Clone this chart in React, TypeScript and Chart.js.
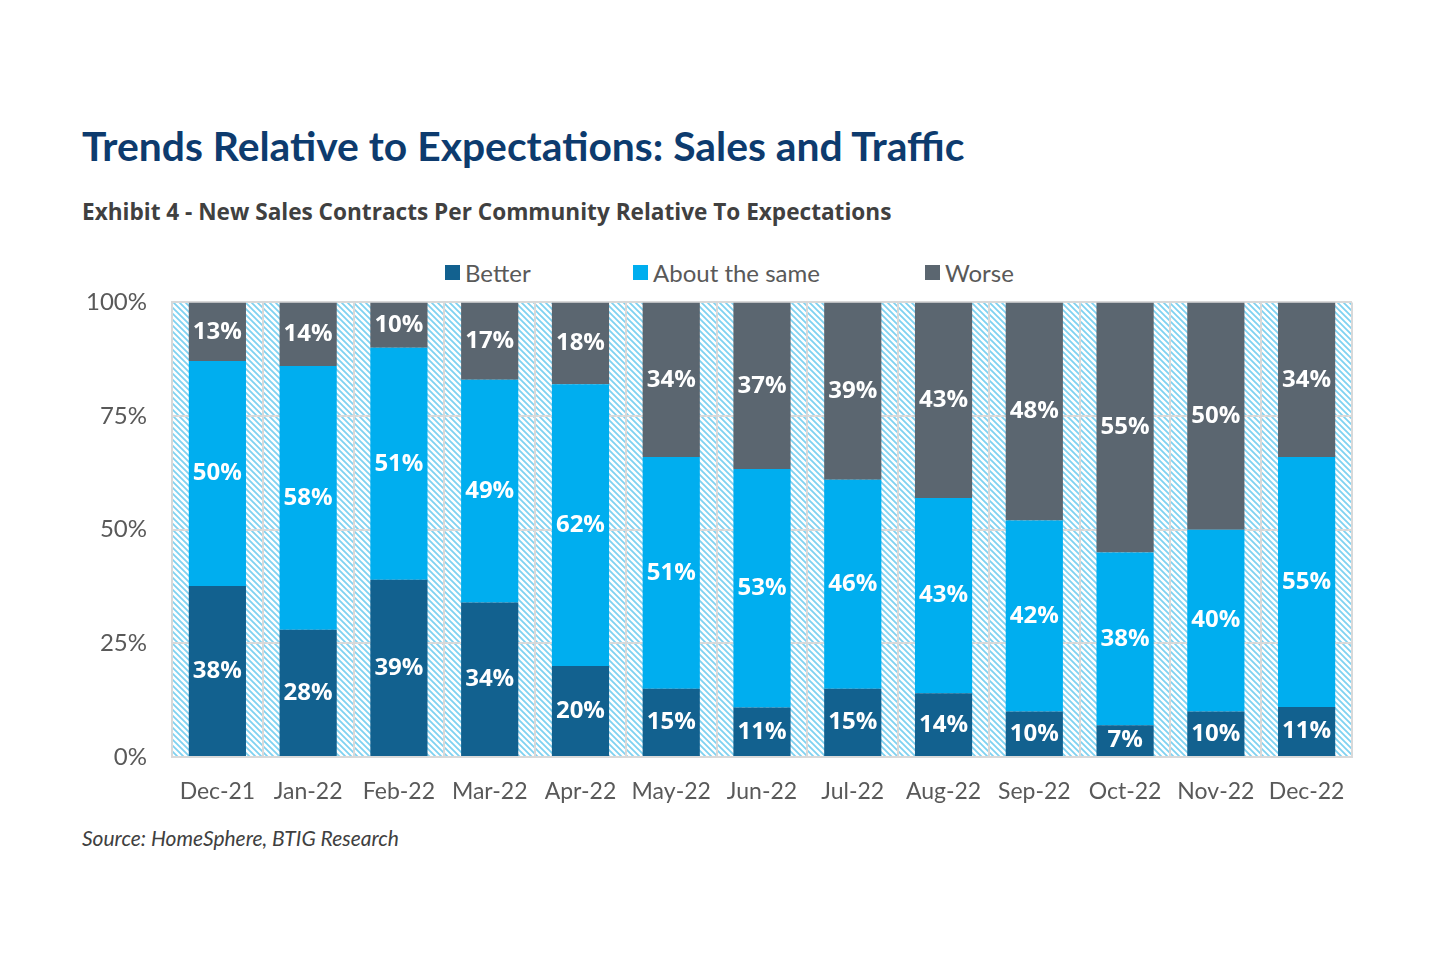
import React, { useEffect, useRef } from "react";
import { Chart, registerables } from "chart.js";

Chart.register(...registerables);

const categories = ["Dec-21", "Jan-22", "Feb-22", "Mar-22", "Apr-22", "May-22", "Jun-22", "Jul-22", "Aug-22", "Sep-22", "Oct-22", "Nov-22", "Dec-22"];
const better = [38, 28, 39, 34, 20, 15, 11, 15, 14, 10, 7, 10, 11];
const aboutSame = [50, 58, 51, 49, 62, 51, 53, 46, 43, 42, 38, 40, 55];
const worse = [13, 14, 10, 17, 18, 34, 37, 39, 43, 48, 55, 50, 34];
const yTicks = [0, 25, 50, 75, 100];

const seriesNames = ["Better", "About the same", "Worse"];
const seriesColors = ["#12618f", "#00aeef", "#5b6670"];

const FONT = "Lato, 'Open Sans', sans-serif";
const FONT2 = "'Open Sans', Lato, sans-serif";

function normalize(idx: number, arr: number[]): number {
  const total = better[idx] + aboutSame[idx] + worse[idx];
  return (arr[idx] / total) * 100;
}

const raw = [better, aboutSame, worse];

const hatchPlugin = {
  id: "hatchBg",
  beforeDraw(chart: any) {
    const { ctx, chartArea } = chart;
    if (!chartArea) return;
    const p = document.createElement("canvas");
    p.width = 6;
    p.height = 6;
    const pc = p.getContext("2d")!;
    pc.fillStyle = "#ffffff";
    pc.fillRect(0, 0, 6, 6);
    pc.strokeStyle = "#7fd2f1";
    pc.lineWidth = 1.8;
    pc.beginPath();
    pc.moveTo(-1, -1);
    pc.lineTo(7, 7);
    pc.moveTo(-4, 2);
    pc.lineTo(2, 8);
    pc.moveTo(2, -4);
    pc.lineTo(8, 2);
    pc.stroke();
    const pattern = ctx.createPattern(p, "repeat");
    ctx.save();
    ctx.fillStyle = pattern;
    ctx.fillRect(chartArea.left, chartArea.top, chartArea.right - chartArea.left, chartArea.bottom - chartArea.top);
    ctx.restore();
  },
};

const labelPlugin = {
  id: "valueLabels",
  afterDatasetsDraw(chart: any) {
    const { ctx } = chart;
    ctx.save();
    ctx.fillStyle = "#ffffff";
    ctx.font = `bold 24px ${FONT2}`;
    ctx.textAlign = "center";
    ctx.textBaseline = "middle";
    chart.data.datasets.forEach((ds: any, di: number) => {
      const meta = chart.getDatasetMeta(di);
      meta.data.forEach((bar: any, i: number) => {
        const cy = (bar.y + bar.base) / 2;
        ctx.fillText(`${raw[di][i]}%`, bar.x, cy);
      });
    });
    ctx.restore();
  },
};

export default function App() {
  const ref = useRef<HTMLCanvasElement>(null);

  useEffect(() => {
    if (!ref.current) return;
    const chart = new Chart(ref.current, {
      type: "bar",
      data: {
        labels: categories,
        datasets: raw.map((arr, di) => ({
          label: seriesNames[di],
          data: arr.map((_, i) => normalize(i, arr)),
          backgroundColor: seriesColors[di],
          borderWidth: 0,
          barPercentage: 0.63,
          categoryPercentage: 1,
        })),
      },
      options: {
        responsive: false,
        animation: false,
        maintainAspectRatio: false,
        layout: { padding: { top: 11, right: 18, left: 0, bottom: 0 } },
        plugins: {
          legend: { display: false },
          tooltip: { enabled: false },
        },
        scales: {
          x: {
            stacked: true,
            offset: true,
            grid: { display: true, offset: true, color: "#d9d9d9", lineWidth: 2, drawTicks: false },
            border: { display: true, color: "#d9d9d9", width: 2 },
            ticks: { color: "#595959", font: { family: FONT, size: 23 }, padding: 21 },
            afterFit(scale: any) {
              scale.height = 60;
            },
          },
          y: {
            stacked: true,
            min: 0,
            max: 100,
            afterBuildTicks(scale: any) {
              scale.ticks = yTicks.map((v) => ({ value: v }));
            },
            grid: { color: "#d9d9d9", lineWidth: 2, drawTicks: false },
            border: { display: true, color: "#d9d9d9", width: 2 },
            ticks: {
              color: "#595959",
              font: { family: FONT, size: 24 },
              padding: 25,
              callback: (v: any) => `${v}%`,
            },
            afterFit(scale: any) {
              scale.width = 92;
            },
          },
        },
      },
      plugins: [hatchPlugin, labelPlugin],
    });
    return () => chart.destroy();
  }, []);

  const legendItems = [
    { left: 445, name: seriesNames[0], color: seriesColors[0] },
    { left: 633, name: seriesNames[1], color: seriesColors[1] },
    { left: 925, name: seriesNames[2], color: seriesColors[2] },
  ];

  return (
    <div style={{ position: "absolute", left: 0, top: 0, width: 1440, height: 960, background: "#ffffff", fontFamily: FONT, overflow: "hidden" }}>
      <div style={{ position: "absolute", left: 82, top: 121, fontSize: 40.8, fontWeight: 700, color: "#0d3b6e", whiteSpace: "nowrap" }}>
        Trends Relative to Expectations: Sales and Traffic
      </div>
      <div style={{ position: "absolute", left: 82, top: 196, fontSize: 22.6, fontWeight: 700, fontFamily: FONT2, color: "#404040", whiteSpace: "nowrap" }}>
        Exhibit 4 - New Sales Contracts Per Community Relative To Expectations
      </div>
      {legendItems.map((it) => (
        <div key={it.name} style={{ position: "absolute", left: it.left, top: 257, height: 30, display: "flex", alignItems: "center", fontSize: 24, color: "#595959", whiteSpace: "nowrap" }}>
          <span style={{ display: "inline-block", width: 15, height: 15, background: it.color, marginRight: 5 }} />
          {it.name}
        </div>
      ))}
      <canvas ref={ref} width={1290} height={554} style={{ position: "absolute", left: 80, top: 263, width: 1290, height: 554 }} />
      <div style={{ position: "absolute", left: 82, top: 825, fontSize: 21, fontStyle: "italic", color: "#404040", whiteSpace: "nowrap" }}>
        Source: HomeSphere, BTIG Research
      </div>
    </div>
  );
}
